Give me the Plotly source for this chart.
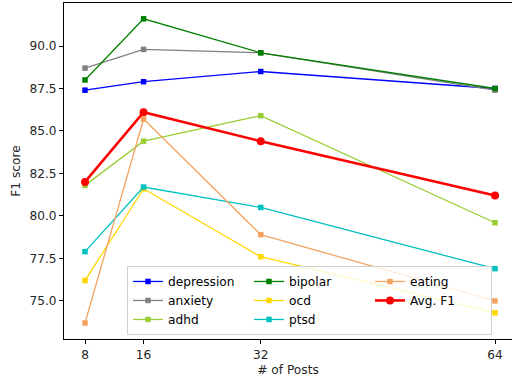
import plotly.graph_objects as go

posts = [8, 16, 32, 64]
depression = [87.4, 87.9, 88.5, 87.5]
anxiety = [88.7, 89.8, 89.6, 87.4]
adhd = [81.8, 84.4, 85.9, 79.6]
bipolar = [88.0, 91.6, 89.6, 87.5]
ocd = [76.2, 81.6, 77.6, 74.3]
ptsd = [77.9, 81.7, 80.5, 76.9]
eating = [73.7, 85.7, 78.9, 75.0]
avg_f1 = [82.0, 86.1, 84.4, 81.2]

y_ticks = [75.0, 77.5, 80.0, 82.5, 85.0, 87.5, 90.0]

series = [
    ("depression", depression, "#0000ff", 1),
    ("anxiety", anxiety, "#808080", 4),
    ("adhd", adhd, "#9acd32", 7),
    ("bipolar", bipolar, "#008000", 2),
    ("ocd", ocd, "#ffd700", 5),
    ("ptsd", ptsd, "#00bfbf", 8),
    ("eating", eating, "#f4a460", 3),
]

fig = go.Figure()
for name, vals, color, rank in series:
    fig.add_trace(go.Scatter(
        x=posts, y=vals, name=name, mode="lines+markers",
        line=dict(color=color, width=1.3),
        marker=dict(symbol="square", size=5.5, color=color),
        legendrank=rank,
    ))
fig.add_trace(go.Scatter(
    x=posts, y=avg_f1, name="Avg. F1", mode="lines+markers",
    line=dict(color="#ff0000", width=2.6),
    marker=dict(symbol="circle", size=8, color="#ff0000"),
    legendrank=6,
))

font = dict(family="DejaVu Sans", size=12.2, color="#262626")
fig.update_layout(
    width=512, height=381,
    margin=dict(l=64, r=0, t=3, b=42, autoexpand=False),
    paper_bgcolor="white", plot_bgcolor="white",
    font=font,
    showlegend=True,
    legend=dict(
        orientation="h",
        x=0.1406, y=0.012, xanchor="left", yanchor="bottom",
        entrywidth=76, entrywidthmode="pixels",
        bgcolor="rgba(255,255,255,0.8)",
        bordercolor="#d0d0d0", borderwidth=1,
        font=dict(family="DejaVu Sans", size=12.2, color="#000000"),
        traceorder="normal",
    ),
    xaxis=dict(
        range=[5.13, 66.32], automargin=False,
        tickmode="array", tickvals=posts, ticktext=[str(p) for p in posts],
        showgrid=False, zeroline=False,
        showline=True, linecolor="black", linewidth=1, mirror=True,
        ticks="outside", ticklen=4, tickcolor="black",
        title=dict(text="# of Posts", standoff=4, font=font),
    ),
    yaxis=dict(
        range=[72.76, 92.53], automargin=False,
        tickmode="array", tickvals=y_ticks, ticktext=[f"{v:.1f}" for v in y_ticks],
        showgrid=False, zeroline=False,
        showline=True, linecolor="black", linewidth=1, mirror=True,
        ticks="outside", ticklen=4, tickcolor="black",
        title=dict(text="F1 score", standoff=6, font=font),
    ),
)

fig.write_html(
    "out.html",
    config={"displayModeBar": False},
    post_script="document.body.style.margin='0';document.body.style.overflow='hidden';",
)
